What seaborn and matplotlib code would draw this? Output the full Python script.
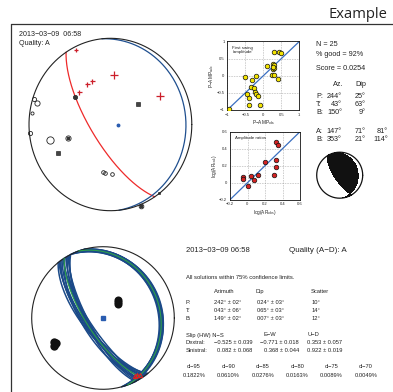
import numpy as np
import pandas as pd
import matplotlib
matplotlib.use("Agg")
import matplotlib.pyplot as plt
from matplotlib.lines import Line2D
import seaborn as sns

# ------------------------------------------------------------------ data
event_time = "2013\u221203\u221209 06:58"
event_time_top = "2013\u221203\u221209  06:58"
quality = "A"

# nodal planes shown in the text block (strike, dip, rake)
plane_names = ["A:", "B:"]
plane_strike = [147, 353]
plane_dip = [71, 21]
plane_rake = [81, 114]

# principal axes (azimuth, plunge) for upper text block
axis_names = ["P:", "T:", "B:"]
axis_az = [244, 43, 150]
axis_pl = [25, 63, 9]

# top stereonet great circles (strike, dip)
top_red_plane = (147, 71)
top_blue_plane = (354, 8)

# top stereonet polarity markers (projected x, y on unit net; size in px)
plus_x = [-0.423, -0.284, -0.226, 0.048, 0.609, -0.386]
plus_y = [0.864, 0.466, 0.505, 0.574, 0.331, 0.381]
plus_size = [3.5, 4.0, 4.0, 6.0, 6.0, 4.0]

circ_x = [-0.935, -0.905, -0.967, -0.984, -0.746, -0.095, -0.066, 0.020]
circ_y = [0.296, 0.253, 0.133, -0.099, -0.180, -0.555, -0.559, -0.571]
circ_size = [4.0, 5.0, 3.0, 4.0, 7.0, 3.5, 3.5, 3.5]

dotcirc_x = [-0.517, -0.431, 0.372]
dotcirc_y = [-0.160, 0.323, -0.942]
dotcirc_size = [5.0, 4.0, 4.5]

square_x = [-0.647, 0.343, 0.597]
square_y = [-0.331, 0.241, -0.795]
square_size = [3.5, 3.5, 3.0]

top_blue_dot = (0.093, -0.002)

# first-swing amplitude comparison
amp_obs = [-0.95, -0.50, -0.31, -0.20, -0.33, -0.27, -0.22, -0.20, -0.16, -0.44,
           -0.40, -0.40, -0.10, 0.29, 0.44, 0.48, 0.10, 0.26, 0.30, 0.26,
           0.29, 0.27, 0.25, 0.31, 0.40]
amp_calc = [-0.96, -0.03, -0.12, -0.02, -0.34, -0.37, -0.46, -0.54, -0.58, -0.52,
            -0.64, -0.84, -0.84, 0.68, 0.68, 0.65, 0.28, 0.35, 0.32, 0.21,
            0.24, 0.27, 0.01, 0.02, -0.10]

# amplitude ratios
ar_obs = [-0.048, -0.048, 0.002, 0.044, 0.078, 0.116, 0.200, 0.322, 0.349, 0.326, 0.326, 0.307]
ar_calc = [0.071, 0.043, -0.039, 0.078, 0.035, 0.086, 0.247, 0.475, 0.443, 0.267, 0.184, 0.086]

amp_ticks = [-1, -0.5, 0, 0.5, 1]
amp_ticklabels = ["\u22121", "\u22120.5", "0", "0.5", "1"]
ar_ticks = [-0.2, 0, 0.2, 0.4, 0.6]
ar_ticklabels = ["\u22120.2", "0", "0.2", "0.4", "0.6"]

# bottom stereonet: family of acceptable solutions (strike, dip)
band_a_strike = [141, 143, 145, 147, 149, 151, 153, 144, 150, 146, 148, 142, 152]
band_a_dip = [67, 69, 70, 72, 73, 74, 70, 68, 71, 75, 66, 71, 72]
band_b_strike = [333, 335, 337, 339, 341, 343, 345, 336, 342, 338, 340, 334, 344]
band_b_dip = [19, 20, 22, 21, 20, 22, 21, 23, 19, 18, 24, 22, 20]
best_a = (147, 71)
best_b = (340, 21)

# bottom stereonet axis clouds (azimuth, plunge)
p_cloud_az = [242, 240, 244, 242]
p_cloud_pl = [24, 22, 25, 27]
t_cloud_az = [40, 43, 47]
t_cloud_pl = [63, 65, 67]
b_cloud_az = [149, 147, 151]
b_cloud_pl = [7, 6, 8]
bottom_blue_dot = (0, 90)

# bottom text block
conf_text = "All solutions within 75% confidence limits."
table_rows = ["P:", "T:", "B:"]
table_az = ["242\u00b0 \u00b1 02\u00b0", "043\u00b0 \u00b1 06\u00b0", "149\u00b0 \u00b1 02\u00b0"]
table_dip = ["024\u00b0 \u00b1 03\u00b0", "065\u00b0 \u00b1 03\u00b0", "007\u00b0 \u00b1 03\u00b0"]
table_scatter = ["10\u00b0", "14\u00b0", "12\u00b0"]
slip_rows = ["Dextral:", "Sinistral:"]
slip_ns = ["\u22120.525 \u00b1 0.039", "0.082 \u00b1 0.068"]
slip_ew = ["\u22120.771 \u00b1 0.018", "0.368 \u00b1 0.044"]
slip_ud = ["0.353 \u00b1 0.057", "0.922 \u00b1 0.019"]
cl_labels = ["cl\u221295", "cl\u221290", "cl\u221285", "cl\u221280", "cl\u221275", "cl\u221270"]
cl_values = ["0.1822%", "0.0610%", "0.0276%", "0.0163%", "0.0089%", "0.0049%"]

# ------------------------------------------------------------------ helpers
W, H = 393, 392
sns.set_style("white")
plt.rcParams["font.family"] = ["Liberation Sans", "DejaVu Sans"]
plt.rcParams["mathtext.fontset"] = "custom"
plt.rcParams["mathtext.rm"] = "Liberation Sans"
plt.rcParams["mathtext.it"] = "Liberation Sans"

fig = plt.figure(figsize=(W / 100, H / 100), dpi=100)
fig.patch.set_facecolor("white")


def box(x0, y0, x1, y1):
    return [x0 / W, 1 - y1 / H, (x1 - x0) / W, (y1 - y0) / H]


def ftext(x, y, s, size=5, ha="left", va="center", **kw):
    fig.text(x / W, 1 - y / H, s, fontsize=size, ha=ha, va=va, color="#222222", **kw)


def project(N, E, D):
    plunge = np.arcsin(np.clip(D, -1, 1))
    az = np.arctan2(E, N)
    r = np.sqrt(2) * np.sin((np.pi / 2 - plunge) / 2)
    return r * np.sin(az), r * np.cos(az)


def plane_vectors(strike, dip):
    s, d = np.radians(strike), np.radians(dip)
    sv = np.array([np.cos(s), np.sin(s), 0.0])
    dv = np.array([np.cos(d) * np.cos(s + np.pi / 2), np.cos(d) * np.sin(s + np.pi / 2), np.sin(d)])
    return sv, dv


def plane_curve(strike, dip):
    sv, dv = plane_vectors(strike, dip)
    t = np.linspace(0, np.pi, 200)
    v = np.outer(np.cos(t), sv) + np.outer(np.sin(t), dv)
    return project(v[:, 0], v[:, 1], v[:, 2])


def line_xy(az, pl):
    a, p = np.radians(np.asarray(az, float)), np.radians(np.asarray(pl, float))
    return project(np.cos(p) * np.cos(a), np.cos(p) * np.sin(a), np.sin(p))


def plane_normal(strike, dip):
    sv, dv = plane_vectors(strike, dip)
    return np.cross(sv, dv)


def net_axes(rect):
    ax = fig.add_axes(rect)
    ax.set_xlim(-1, 1)
    ax.set_ylim(-1, 1)
    ax.set_axis_off()
    th = np.linspace(0, 2 * np.pi, 400)
    ax.plot(np.cos(th), np.sin(th), color="#222222", lw=0.8, clip_on=False, zorder=3)
    return ax

# ------------------------------------------------------------------ frame + heading
fig.add_artist(Line2D([11 / W, 1.0], [1 - 24 / H, 1 - 24 / H], transform=fig.transFigure,
                      color="#333333", lw=0.9))
fig.add_artist(Line2D([11 / W, 11 / W], [1 - 24 / H, 0.0], transform=fig.transFigure,
                      color="#333333", lw=0.9))
fig.text(387 / W, 1 - 14.5 / H, "Example", fontsize=10.6, ha="right", va="center",
         family=["Open Sans", "DejaVu Sans"], color="#222222")

# ------------------------------------------------------------------ top stereonet
ax1 = net_axes(box(29, 38.3, 191.8, 210.7))
x, y = plane_curve(*top_red_plane)
ax1.plot(x, y, color="#ee2a2a", lw=0.9, clip_on=False)
x, y = plane_curve(*top_blue_plane)
ax1.plot(x, y, color="#1f4f8f", lw=0.9, clip_on=False)
for xx, yy, ss in zip(plus_x, plus_y, plus_size):
    ax1.plot(xx, yy, marker="+", ms=ss * 0.9, mew=0.9, color="#cc1f2a", clip_on=False)
for xx, yy, ss in zip(circ_x, circ_y, circ_size):
    ax1.plot(xx, yy, marker="o", ms=ss * 0.75, mfc="none", mec="#222222", mew=0.6, clip_on=False)
for xx, yy, ss in zip(dotcirc_x, dotcirc_y, dotcirc_size):
    ax1.plot(xx, yy, marker="o", ms=ss * 0.75, mfc="none", mec="#222222", mew=0.6, clip_on=False)
    ax1.plot(xx, yy, marker="s", ms=ss * 0.35, color="#333333", clip_on=False)
for xx, yy, ss in zip(square_x, square_y, square_size):
    ax1.plot(xx, yy, marker="s", ms=ss * 0.7, mfc="#444444", mec="#111111", mew=0.4, clip_on=False)
ax1.plot(*top_blue_dot, marker="o", ms=1.8, color="#2a5cb0")
ftext(19, 34.3, event_time_top, size=5.1)
ftext(19, 43.3, "Quality: " + quality, size=5.1)

# ------------------------------------------------------------------ scatter panels
def style_scatter(ax, ticks, labels):
    ax.set_xlim(ticks[0], ticks[-1])
    ax.set_ylim(ticks[0], ticks[-1])
    ax.set_xticks(ticks)
    ax.set_yticks(ticks)
    ax.set_xticklabels(labels)
    ax.set_yticklabels(labels)
    ax.tick_params(labelsize=3, length=1.2, width=0.4, pad=0.8, direction="out")
    ax.grid(True, linestyle=":", color="#888888", lw=0.45)
    for sp in ax.spines.values():
        sp.set_visible(True)
        sp.set_color("#111111")
        sp.set_linewidth(0.6)
    ax.plot([ticks[0], ticks[-1]], [ticks[0], ticks[-1]], color="#3a6fc0", lw=0.9, zorder=2)


ax2 = fig.add_axes(box(227.3, 41.5, 299.3, 110))
df1 = pd.DataFrame({"obs": amp_obs, "calc": amp_calc})
style_scatter(ax2, amp_ticks, amp_ticklabels)
sns.scatterplot(data=df1, x="obs", y="calc", ax=ax2, color="#f4e400", edgecolor="#111111",
                s=11, linewidth=0.5, legend=False, zorder=3)
ax2.set_xlabel("P\u2212AMP$_{\\rm obs}$", fontsize=3.4, labelpad=0.8)
ax2.set_ylabel("P\u2212AMP$_{\\rm calc}$", fontsize=3.4, labelpad=0.5)
ax2.text(0.07, 0.93, "First swing\n'amplitude'", transform=ax2.transAxes, fontsize=3.2,
         va="top", ha="left", color="#222222", linespacing=1.0)

ax3 = fig.add_axes(box(230, 131.7, 300, 199.7))
df2 = pd.DataFrame({"obs": ar_obs, "calc": ar_calc})
style_scatter(ax3, ar_ticks, ar_ticklabels)
sns.scatterplot(data=df2, x="obs", y="calc", ax=ax3, color="#d42222", edgecolor="#111111",
                s=11, linewidth=0.5, legend=False, zorder=3)
ax3.set_xlabel("log(AR$_{\\rm obs}$)", fontsize=3.4, labelpad=0.8)
ax3.set_ylabel("log(AR$_{\\rm calc}$)", fontsize=3.4, labelpad=0.5)
ax3.text(0.07, 0.93, "Amplitude ratios", transform=ax3.transAxes, fontsize=3.2,
         va="top", ha="left", color="#222222")

# ------------------------------------------------------------------ upper-right text
ftext(316, 45, "N = 25", size=5.2)
ftext(316, 54.7, "% good = 92%", size=5.2)
ftext(316, 68.3, "Score = 0.0254", size=5.2)
ftext(343, 85, "Az.", size=5.2, ha="right")
ftext(366, 85, "Dip", size=5.2, ha="right")
for i, (nm, az, pl) in enumerate(zip(axis_names, axis_az, axis_pl)):
    yy = 96.5 + 8 * i
    ftext(316, yy, nm, size=5.2)
    ftext(342, yy, f"{az}\u00b0", size=5.2, ha="right")
    ftext(366, yy, f"{pl}\u00b0", size=5.2, ha="right")
for i, (nm, s, d, r) in enumerate(zip(plane_names, plane_strike, plane_dip, plane_rake)):
    yy = 131.8 + 7.5 * i
    ftext(316, yy, nm, size=5.2)
    ftext(342, yy, f"{s}\u00b0", size=5.2, ha="right")
    ftext(366, yy, f"{d}\u00b0", size=5.2, ha="right")
    ftext(388, yy, f"{r}\u00b0", size=5.2, ha="right")

# ------------------------------------------------------------------ beachball
ax4 = fig.add_axes(box(316.7, 152.2, 362.7, 198.2))
ax4.set_xlim(-1, 1)
ax4.set_ylim(-1, 1)
ax4.set_axis_off()
g = np.linspace(-1, 1, 401)
X, Y = np.meshgrid(g, g)
R = np.hypot(X, Y)
pl = np.pi / 2 - 2 * np.arcsin(np.clip(R, 0, 1) / np.sqrt(2))
az = np.arctan2(X, Y)
V = np.stack([np.cos(pl) * np.cos(az), np.cos(pl) * np.sin(az), np.sin(pl)], axis=-1)
na = plane_normal(plane_strike[0], plane_dip[0])
nb = plane_normal(plane_strike[1], plane_dip[1])
prod = np.sign(V @ na) * np.sign(V @ nb)
tp, ta = np.radians(axis_pl[1]), np.radians(axis_az[1])
tv = np.array([np.cos(tp) * np.cos(ta), np.cos(tp) * np.sin(ta), np.sin(tp)])
ref = np.sign(tv @ na) * np.sign(tv @ nb)
field = np.where(prod == ref, 1.0, 0.0)
field[R > 1] = np.nan
ax4.contourf(X, Y, field, levels=[0.5, 1.5], colors=["#111111"])
th = np.linspace(0, 2 * np.pi, 300)
ax4.plot(np.cos(th), np.sin(th), color="#111111", lw=0.9, clip_on=False)

# ------------------------------------------------------------------ bottom stereonet
ax5 = net_axes(box(31.7, 246.7, 174.3, 389.3))
for s, d in zip(band_a_strike, band_a_dip):
    x, y = plane_curve(s, d)
    ax5.plot(x, y, color="#1b4a88", lw=1.1, clip_on=False, zorder=2)
for s, d in zip(band_b_strike, band_b_dip):
    x, y = plane_curve(s, d)
    ax5.plot(x, y, color="#1b4a88", lw=1.1, clip_on=False, zorder=2)
for s, d in (best_a, best_b):
    x, y = plane_curve(s, d)
    ax5.plot(x, y, color="#2ea04a", lw=0.8, clip_on=False, zorder=4)
px, py = line_xy(p_cloud_az, p_cloud_pl)
ax5.plot(px, py, "o", ms=6, color="#111111", mec="none", zorder=5)
tx, ty = line_xy(t_cloud_az, t_cloud_pl)
ax5.plot(tx, ty, "o", ms=5.8, color="#111111", mec="none", zorder=5)
bx, by = line_xy(b_cloud_az, b_cloud_pl)
ax5.plot(bx, by, "^", ms=3, mfc="none", mec="#e02020", mew=0.8, zorder=6, clip_on=False)
cx, cy = line_xy([bottom_blue_dot[0]], [bottom_blue_dot[1]])
ax5.plot(cx, cy, "s", ms=2.2, color="#2a5cb0", zorder=6)

# ------------------------------------------------------------------ bottom text
ftext(186, 250.7, event_time, size=5.5)
ftext(289.3, 250.7, "Quality (A\u2212D): " + quality, size=5.8)
ftext(186, 277.3, conf_text, size=4.25)
ts = 4.15
ftext(213.7, 291.7, "Azimuth", size=ts)
ftext(256, 291.7, "Dip", size=ts)
ftext(310.3, 291.7, "Scatter", size=ts)
for i, (nm, a, d, sc) in enumerate(zip(table_rows, table_az, table_dip, table_scatter)):
    yy = 303 + 8 * i
    ftext(185.5, yy, nm, size=ts)
    ftext(213.7, yy, a, size=ts)
    ftext(257, yy, d, size=ts)
    ftext(311, yy, sc, size=ts)
ftext(185.5, 335, "Slip (HW) N\u2212S", size=ts)
ftext(263, 335, "E\u2212W", size=ts)
ftext(308, 335, "U\u2212D", size=ts)
for i, (nm, a, b, c) in enumerate(zip(slip_rows, slip_ns, slip_ew, slip_ud)):
    yy = 342.8 + 7.9 * i
    ftext(185.5, yy, nm, size=ts)
    ftext(214.5 + 2.5 * i, yy, a, size=ts)
    ftext(259.7 + 4 * i, yy, b, size=ts)
    ftext(307, yy, c, size=ts)
for i, (lab, val) in enumerate(zip(cl_labels, cl_values)):
    xc = 194 + 34.4 * i
    ftext(xc, 367, lab, size=ts, ha="center")
    ftext(xc, 375.3, val, size=ts, ha="center")

fig.savefig("out.png", dpi=100, facecolor="white")
